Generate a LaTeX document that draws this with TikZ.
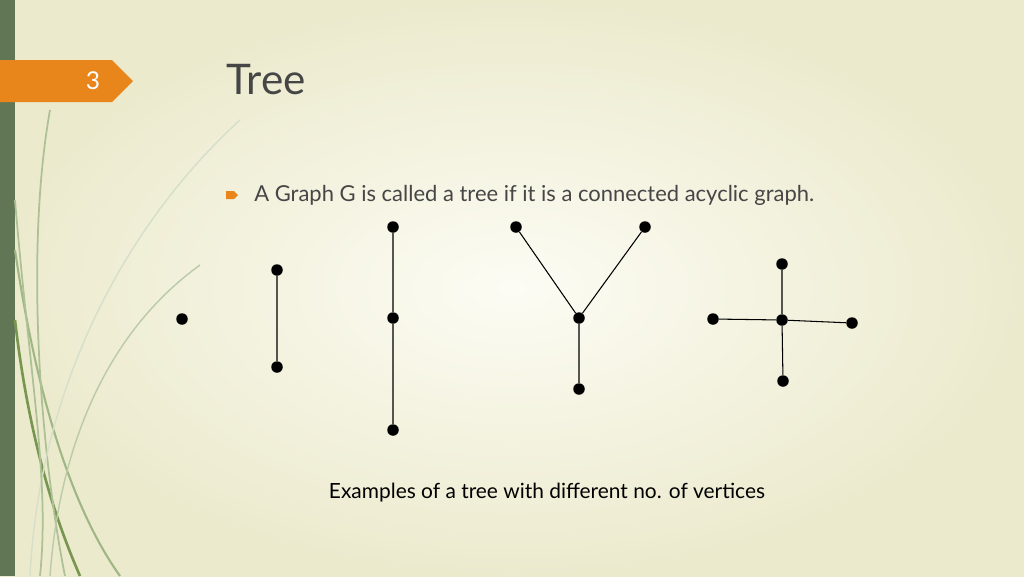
\documentclass[tikz,border=0pt]{standalone}
\usepackage{fontspec}
\setmainfont{Lato}
\definecolor{bgc}{RGB}{236,234,205}
\definecolor{bgl}{RGB}{252,252,244}
\definecolor{strip}{RGB}{96,118,84}
\definecolor{orng}{RGB}{232,134,28}
\definecolor{grass}{RGB}{120,150,80}
\definecolor{txt}{RGB}{70,70,70}
\begin{document}
\begin{tikzpicture}[x=0.02cm,y=-0.02cm,
  v/.style={circle,fill=black,inner sep=0pt,minimum size=11.5*0.02cm},
  e/.style={draw=black,line width=0.6pt}]
\useasboundingbox (0,0) rectangle (1024,576);
\shade[inner color=bgl,outer color=bgc] (0,0) rectangle (1024,576);
\fill[strip] (0,0) rectangle (15,576);
% grass
\draw[grass!70,line width=1.2pt] (15,250) .. controls (40,420) and (80,520) .. (120,576);
\draw[grass,line width=1.5pt] (15,320) .. controls (30,450) and (60,530) .. (80,576);
\draw[grass!60,line width=1pt] (50,110) .. controls (25,250) and (40,450) .. (65,576);
\draw[grass!50,line width=0.8pt] (200,265) .. controls (110,330) and (60,440) .. (50,576);
\draw[grass!30,line width=0.8pt] (240,120) .. controls (130,220) and (40,380) .. (30,576);
\draw[grass!60,line width=1pt] (15,200) .. controls (30,380) and (50,480) .. (40,576);
% tag
\fill[orng] (0,60) -- (112,60) -- (133,81) -- (112,102) -- (0,102) -- cycle;
\node[text=white,font=\fontsize{14}{16}\selectfont] (num) at (93,81) {3};
\node[text=txt,font=\fontsize{24}{28}\selectfont,anchor=west,inner sep=0pt] (title) at (226,80) {Tree};
\fill[orng] (226,191) -- (234,191) -- (238,195) -- (234,199) -- (226,199) -- cycle;
\node[text=txt,font=\fontsize{12.5}{15}\selectfont,anchor=west,inner sep=0pt] (b) at (254,195) {A Graph G is called a tree if it is a connected acyclic graph.};
\node[text=black,font=\fontsize{11.9}{14}\selectfont,inner sep=0pt] (cap) at (547,493) {Examples of a tree with different no. of vertices};
% graphs
\node[v] (a1) at (182,319) {};
\node[v] (b1) at (277,270) {}; \node[v] (b2) at (277,367) {};
\node[v] (c1) at (393,227) {}; \node[v] (c2) at (393,318) {}; \node[v] (c3) at (393,430) {};
\node[v] (d1) at (516,227) {}; \node[v] (d2) at (645,227) {}; \node[v] (d3) at (579,318) {}; \node[v] (d4) at (579,389) {};
\node[v] (f1) at (782,264) {}; \node[v] (f2) at (713,319) {}; \node[v] (f3) at (782,320) {}; \node[v] (f4) at (852,323) {}; \node[v] (f5) at (783,381) {};
\draw[e] (b1)--(b2) (c1)--(c2)--(c3) (d1)--(d3) (d2)--(d3) (d3)--(d4)
  (f1)--(f3) (f2)--(f3) (f3)--(f4) (f3)--(f5);
\end{tikzpicture}
\end{document}
